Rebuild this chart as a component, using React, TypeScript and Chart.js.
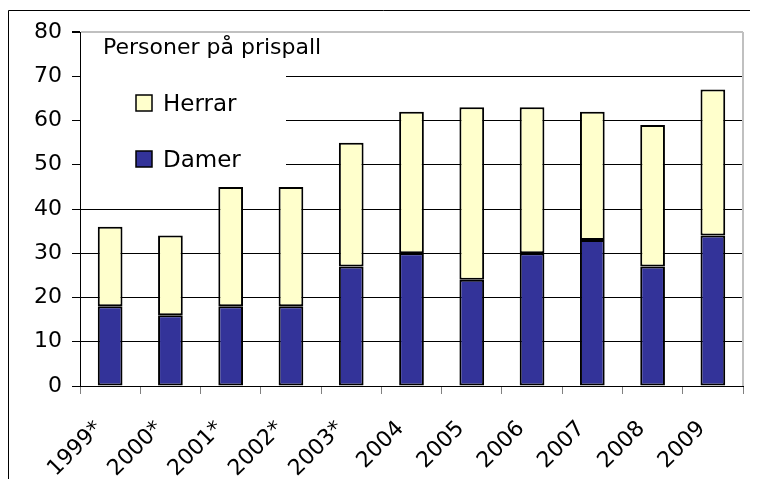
import React, { useEffect, useRef } from "react";
import { Chart, registerables } from "chart.js";

Chart.register(...registerables);

const categories = ["1999*", "2000*", "2001*", "2002*", "2003*", "2004", "2005", "2006", "2007", "2008", "2009"];
const damer = [18, 16, 18, 18, 27, 30, 24, 30, 33, 27, 34];
const herrar = [18, 18, 27, 27, 28, 32, 39, 33, 29, 32, 33];
const yMin = 0;
const yMax = 80;
const yStep = 10;
const chartTitle = "Personer på prispall";
const seriesHerrar = "Herrar";
const seriesDamer = "Damer";

const FONT = "'DejaVu Sans', sans-serif";
const DAMER_COLOR = "#333399";
const HERRAR_COLOR = "#FFFFCC";

const overlayPlugin = {
  id: "overlay",
  beforeDatasetsDraw(chart: any) {
    const { ctx, chartArea } = chart;
    ctx.save();
    ctx.fillStyle = "#fff";
    ctx.fillRect(chartArea.left + 1, chartArea.top + 1, 205, 156);
    ctx.strokeStyle = "#c0c0c0";
    ctx.lineWidth = 2;
    ctx.beginPath();
    ctx.moveTo(chartArea.right, chartArea.top);
    ctx.lineTo(chartArea.right, chartArea.bottom);
    ctx.stroke();
    ctx.restore();
  },
  afterDraw(chart: any) {
    const { ctx, chartArea } = chart;
    ctx.save();
    ctx.strokeStyle = "#000";
    ctx.lineWidth = 1;
    ctx.beginPath();
    ctx.moveTo(0.5, chart.height);
    ctx.lineTo(0.5, 2.5);
    ctx.lineTo(chart.width, 2.5);
    ctx.stroke();
    ctx.fillStyle = "#000";
    ctx.textBaseline = "alphabetic";
    ctx.textAlign = "left";
    ctx.font = `22px ${FONT}`;
    ctx.fillText(chartTitle, chartArea.left + 23, chartArea.top + 22);
    const items = [
      { label: seriesHerrar, color: HERRAR_COLOR, y: chartArea.top + 79 },
      { label: seriesDamer, color: DAMER_COLOR, y: chartArea.top + 135 },
    ];
    ctx.font = `23px ${FONT}`;
    for (const it of items) {
      ctx.fillStyle = it.color;
      ctx.fillRect(chartArea.left + 56, it.y - 16, 16, 16);
      ctx.strokeStyle = "#000";
      ctx.lineWidth = 1.5;
      ctx.strokeRect(chartArea.left + 56, it.y - 16, 16, 16);
      ctx.fillStyle = "#000";
      ctx.fillText(it.label, chartArea.left + 83, it.y);
    }
    ctx.restore();
  },
};

export default function App() {
  const canvasRef = useRef<HTMLCanvasElement | null>(null);

  useEffect(() => {
    if (!canvasRef.current) return;
    const chart = new Chart(canvasRef.current, {
      type: "bar",
      data: {
        labels: categories,
        datasets: [
          {
            label: seriesDamer,
            data: damer,
            backgroundColor: DAMER_COLOR,
            borderColor: "#000",
            borderWidth: 2,
            borderSkipped: false,
            barPercentage: 0.41,
            categoryPercentage: 1,
          },
          {
            label: seriesHerrar,
            data: herrar,
            backgroundColor: HERRAR_COLOR,
            borderColor: "#000",
            borderWidth: 2,
            borderSkipped: false,
            barPercentage: 0.41,
            categoryPercentage: 1,
          },
        ],
      },
      options: {
        animation: false,
        responsive: false,
        maintainAspectRatio: false,
        layout: { padding: { left: 12, top: 24, right: 15, bottom: 0 } },
        plugins: {
          legend: { display: false },
          title: { display: false },
          tooltip: { enabled: false },
        },
        scales: {
          x: {
            stacked: true,
            grid: {
              drawOnChartArea: false,
              drawTicks: true,
              tickLength: 8,
              color: "#808080",
              offset: true,
            },
            border: { color: "#000", width: 1 },
            ticks: {
              color: "#000",
              font: { family: FONT, size: 22 },
              maxRotation: 45,
              minRotation: 45,
              autoSkip: false,
              labelOffset: -11,
              padding: 22,
            },
            afterFit(s: any) {
              s.height = 93;
            },
          },
          y: {
            stacked: true,
            min: yMin,
            max: yMax,
            grid: {
              color: (c: any) => (c.tick && c.tick.value === yMax ? "#c0c0c0" : "#000"),
              lineWidth: (c: any) => (c.tick && c.tick.value === yMax ? 2 : 1),
              tickColor: "#000",
              tickLength: 8,
              drawTicks: true,
            },
            border: { color: "#000", width: 1 },
            ticks: {
              stepSize: yStep,
              color: "#000",
              font: { family: FONT, size: 22 },
              padding: 10,
            },
            afterFit(s: any) {
              s.width = 60;
            },
          },
        },
      },
      plugins: [overlayPlugin],
    } as any);
    return () => chart.destroy();
  }, []);

  return (
    <canvas
      ref={canvasRef}
      width={750}
      height={471}
      style={{ display: "block", width: 750, height: 471 }}
    />
  );
}
